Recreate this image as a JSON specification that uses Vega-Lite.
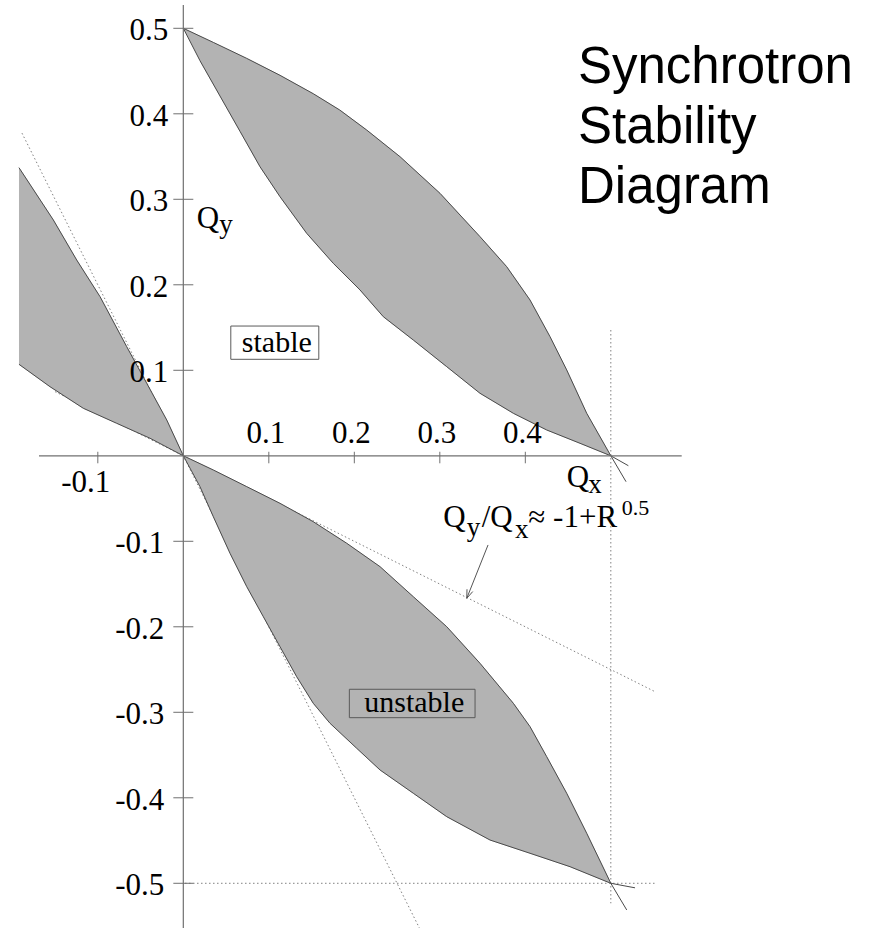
{
  "$schema": "https://vega.github.io/schema/vega-lite/v6.json",
  "width": 871,
  "height": 928,
  "padding": 0,
  "autosize": {"type": "none"},
  "background": "white",
  "config": {"view": {"stroke": null}},
  "datasets": {
    "regions": [
      {"region": "upper", "seq": 1, "x": 0, "y": 0.5},
      {"region": "upper", "seq": 2, "x": 0.0351, "y": 0.4835},
      {"region": "upper", "seq": 3, "x": 0.0742, "y": 0.4648},
      {"region": "upper", "seq": 4, "x": 0.1131, "y": 0.445},
      {"region": "upper", "seq": 5, "x": 0.152, "y": 0.4235},
      {"region": "upper", "seq": 6, "x": 0.183, "y": 0.4044},
      {"region": "upper", "seq": 7, "x": 0.2145, "y": 0.381},
      {"region": "upper", "seq": 8, "x": 0.2535, "y": 0.3498},
      {"region": "upper", "seq": 9, "x": 0.3002, "y": 0.307},
      {"region": "upper", "seq": 10, "x": 0.347, "y": 0.2563},
      {"region": "upper", "seq": 11, "x": 0.3782, "y": 0.2212},
      {"region": "upper", "seq": 12, "x": 0.4055, "y": 0.1822},
      {"region": "upper", "seq": 13, "x": 0.4289, "y": 0.1393},
      {"region": "upper", "seq": 14, "x": 0.4484, "y": 0.1004},
      {"region": "upper", "seq": 15, "x": 0.4718, "y": 0.0497},
      {"region": "upper", "seq": 16, "x": 0.5, "y": 0},
      {"region": "upper", "seq": 17, "x": 0.464, "y": 0.0146},
      {"region": "upper", "seq": 18, "x": 0.425, "y": 0.0302},
      {"region": "upper", "seq": 19, "x": 0.386, "y": 0.0497},
      {"region": "upper", "seq": 20, "x": 0.347, "y": 0.0731},
      {"region": "upper", "seq": 21, "x": 0.3081, "y": 0.1042},
      {"region": "upper", "seq": 22, "x": 0.269, "y": 0.1354},
      {"region": "upper", "seq": 23, "x": 0.2339, "y": 0.1627},
      {"region": "upper", "seq": 24, "x": 0.2067, "y": 0.1939},
      {"region": "upper", "seq": 25, "x": 0.1754, "y": 0.2251},
      {"region": "upper", "seq": 26, "x": 0.1443, "y": 0.2602},
      {"region": "upper", "seq": 27, "x": 0.1131, "y": 0.303},
      {"region": "upper", "seq": 28, "x": 0.0897, "y": 0.3381},
      {"region": "upper", "seq": 29, "x": 0.0663, "y": 0.3795},
      {"region": "upper", "seq": 30, "x": 0.0429, "y": 0.4208},
      {"region": "upper", "seq": 31, "x": 0.0195, "y": 0.4621},
      {"region": "left", "seq": 1, "x": -0.1922, "y": 0.337},
      {"region": "left", "seq": 2, "x": -0.152, "y": 0.2758},
      {"region": "left", "seq": 3, "x": -0.1247, "y": 0.229},
      {"region": "left", "seq": 4, "x": -0.0974, "y": 0.1861},
      {"region": "left", "seq": 5, "x": -0.0662, "y": 0.1276},
      {"region": "left", "seq": 6, "x": -0.0428, "y": 0.0848},
      {"region": "left", "seq": 7, "x": -0.0194, "y": 0.0419},
      {"region": "left", "seq": 8, "x": 0, "y": 0},
      {"region": "left", "seq": 9, "x": -0.0389, "y": 0.0205},
      {"region": "left", "seq": 10, "x": -0.0779, "y": 0.038},
      {"region": "left", "seq": 11, "x": -0.117, "y": 0.0556},
      {"region": "left", "seq": 12, "x": -0.1559, "y": 0.0808},
      {"region": "left", "seq": 13, "x": -0.1922, "y": 0.107},
      {"region": "lower", "seq": 1, "x": 0, "y": 0},
      {"region": "lower", "seq": 2, "x": 0.0351, "y": -0.0166},
      {"region": "lower", "seq": 3, "x": 0.0742, "y": -0.0361},
      {"region": "lower", "seq": 4, "x": 0.1131, "y": -0.0556},
      {"region": "lower", "seq": 5, "x": 0.152, "y": -0.0771},
      {"region": "lower", "seq": 6, "x": 0.1911, "y": -0.1023},
      {"region": "lower", "seq": 7, "x": 0.2301, "y": -0.1297},
      {"region": "lower", "seq": 8, "x": 0.269, "y": -0.1648},
      {"region": "lower", "seq": 9, "x": 0.3081, "y": -0.1999},
      {"region": "lower", "seq": 10, "x": 0.347, "y": -0.2427},
      {"region": "lower", "seq": 11, "x": 0.386, "y": -0.2895},
      {"region": "lower", "seq": 12, "x": 0.4055, "y": -0.3168},
      {"region": "lower", "seq": 13, "x": 0.425, "y": -0.3519},
      {"region": "lower", "seq": 14, "x": 0.4484, "y": -0.3947},
      {"region": "lower", "seq": 15, "x": 0.4718, "y": -0.4415},
      {"region": "lower", "seq": 16, "x": 0.5, "y": -0.5},
      {"region": "lower", "seq": 17, "x": 0.4523, "y": -0.4806},
      {"region": "lower", "seq": 18, "x": 0.4055, "y": -0.4649},
      {"region": "lower", "seq": 19, "x": 0.3587, "y": -0.4494},
      {"region": "lower", "seq": 20, "x": 0.3081, "y": -0.4221},
      {"region": "lower", "seq": 21, "x": 0.269, "y": -0.3947},
      {"region": "lower", "seq": 22, "x": 0.2301, "y": -0.3675},
      {"region": "lower", "seq": 23, "x": 0.2028, "y": -0.3421},
      {"region": "lower", "seq": 24, "x": 0.1716, "y": -0.3129},
      {"region": "lower", "seq": 25, "x": 0.152, "y": -0.2895},
      {"region": "lower", "seq": 26, "x": 0.1326, "y": -0.2584},
      {"region": "lower", "seq": 27, "x": 0.1131, "y": -0.2233},
      {"region": "lower", "seq": 28, "x": 0.0936, "y": -0.1882},
      {"region": "lower", "seq": 29, "x": 0.0742, "y": -0.1531},
      {"region": "lower", "seq": 30, "x": 0.0546, "y": -0.114},
      {"region": "lower", "seq": 31, "x": 0.0351, "y": -0.0712},
      {"region": "lower", "seq": 32, "x": 0.0195, "y": -0.0361}
    ],
    "curves": [
      {"curve": "c1", "x": 0, "y": 0.5},
      {"curve": "c1", "x": 0.0351, "y": 0.4835},
      {"curve": "c1", "x": 0.0742, "y": 0.4648},
      {"curve": "c1", "x": 0.1131, "y": 0.445},
      {"curve": "c1", "x": 0.152, "y": 0.4235},
      {"curve": "c1", "x": 0.183, "y": 0.4044},
      {"curve": "c1", "x": 0.2145, "y": 0.381},
      {"curve": "c1", "x": 0.2535, "y": 0.3498},
      {"curve": "c1", "x": 0.3002, "y": 0.307},
      {"curve": "c1", "x": 0.347, "y": 0.2563},
      {"curve": "c1", "x": 0.3782, "y": 0.2212},
      {"curve": "c1", "x": 0.4055, "y": 0.1822},
      {"curve": "c1", "x": 0.4289, "y": 0.1393},
      {"curve": "c1", "x": 0.4484, "y": 0.1004},
      {"curve": "c1", "x": 0.4718, "y": 0.0497},
      {"curve": "c1", "x": 0.5, "y": 0},
      {"curve": "c1", "x": 0.5178, "y": -0.0303},
      {"curve": "c2", "x": 0, "y": 0.5},
      {"curve": "c2", "x": 0.0195, "y": 0.4621},
      {"curve": "c2", "x": 0.0429, "y": 0.4208},
      {"curve": "c2", "x": 0.0663, "y": 0.3795},
      {"curve": "c2", "x": 0.0897, "y": 0.3381},
      {"curve": "c2", "x": 0.1131, "y": 0.303},
      {"curve": "c2", "x": 0.1443, "y": 0.2602},
      {"curve": "c2", "x": 0.1754, "y": 0.2251},
      {"curve": "c2", "x": 0.2067, "y": 0.1939},
      {"curve": "c2", "x": 0.2339, "y": 0.1627},
      {"curve": "c2", "x": 0.269, "y": 0.1354},
      {"curve": "c2", "x": 0.3081, "y": 0.1042},
      {"curve": "c2", "x": 0.347, "y": 0.0731},
      {"curve": "c2", "x": 0.386, "y": 0.0497},
      {"curve": "c2", "x": 0.425, "y": 0.0302},
      {"curve": "c2", "x": 0.464, "y": 0.0146},
      {"curve": "c2", "x": 0.5, "y": 0},
      {"curve": "c2", "x": 0.5205, "y": -0.0116},
      {"curve": "c3", "x": -0.1922, "y": 0.337},
      {"curve": "c3", "x": -0.152, "y": 0.2758},
      {"curve": "c3", "x": -0.1247, "y": 0.229},
      {"curve": "c3", "x": -0.0974, "y": 0.1861},
      {"curve": "c3", "x": -0.0662, "y": 0.1276},
      {"curve": "c3", "x": -0.0428, "y": 0.0848},
      {"curve": "c3", "x": -0.0194, "y": 0.0419},
      {"curve": "c3", "x": 0, "y": 0},
      {"curve": "c3", "x": 0.0195, "y": -0.0361},
      {"curve": "c3", "x": 0.0351, "y": -0.0712},
      {"curve": "c3", "x": 0.0546, "y": -0.114},
      {"curve": "c3", "x": 0.0742, "y": -0.1531},
      {"curve": "c3", "x": 0.0936, "y": -0.1882},
      {"curve": "c3", "x": 0.1131, "y": -0.2233},
      {"curve": "c3", "x": 0.1326, "y": -0.2584},
      {"curve": "c3", "x": 0.152, "y": -0.2895},
      {"curve": "c3", "x": 0.1716, "y": -0.3129},
      {"curve": "c3", "x": 0.2028, "y": -0.3421},
      {"curve": "c3", "x": 0.2301, "y": -0.3675},
      {"curve": "c3", "x": 0.269, "y": -0.3947},
      {"curve": "c3", "x": 0.3081, "y": -0.4221},
      {"curve": "c3", "x": 0.3587, "y": -0.4494},
      {"curve": "c3", "x": 0.4055, "y": -0.4649},
      {"curve": "c3", "x": 0.4523, "y": -0.4806},
      {"curve": "c3", "x": 0.5, "y": -0.5},
      {"curve": "c3", "x": 0.5283, "y": -0.5053},
      {"curve": "c4", "x": -0.1922, "y": 0.107},
      {"curve": "c4", "x": -0.1559, "y": 0.0808},
      {"curve": "c4", "x": -0.117, "y": 0.0556},
      {"curve": "c4", "x": -0.0779, "y": 0.038},
      {"curve": "c4", "x": -0.0389, "y": 0.0205},
      {"curve": "c4", "x": 0, "y": 0},
      {"curve": "c4", "x": 0.0351, "y": -0.0166},
      {"curve": "c4", "x": 0.0742, "y": -0.0361},
      {"curve": "c4", "x": 0.1131, "y": -0.0556},
      {"curve": "c4", "x": 0.152, "y": -0.0771},
      {"curve": "c4", "x": 0.1911, "y": -0.1023},
      {"curve": "c4", "x": 0.2301, "y": -0.1297},
      {"curve": "c4", "x": 0.269, "y": -0.1648},
      {"curve": "c4", "x": 0.3081, "y": -0.1999},
      {"curve": "c4", "x": 0.347, "y": -0.2427},
      {"curve": "c4", "x": 0.386, "y": -0.2895},
      {"curve": "c4", "x": 0.4055, "y": -0.3168},
      {"curve": "c4", "x": 0.425, "y": -0.3519},
      {"curve": "c4", "x": 0.4484, "y": -0.3947},
      {"curve": "c4", "x": 0.4718, "y": -0.4415},
      {"curve": "c4", "x": 0.5, "y": -0.5},
      {"curve": "c4", "x": 0.5186, "y": -0.5312}
    ],
    "guides": [
      {"x": -0.1887, "y": 0.3774, "x2": 0.2761, "y2": -0.5523},
      {"x": -0.15, "y": 0.075, "x2": 0.5517, "y2": -0.2759},
      {"x": 0.5, "y": 0.1471, "x2": 0.5, "y2": -0.5234},
      {"x": 0.002, "y": -0.5, "x2": 0.5517, "y2": -0.5}
    ],
    "axes": [
      {"x": -0.1688, "y": 0, "x2": 0.5829, "y2": 0},
      {"x": 0, "y": 0.5273, "x2": 0, "y2": -0.5523}
    ],
    "yticks": [
      {"x": 0, "y": 0.5, "label": "0.5"},
      {"x": 0, "y": 0.4, "label": "0.4"},
      {"x": 0, "y": 0.3, "label": "0.3"},
      {"x": 0, "y": 0.2, "label": "0.2"},
      {"x": 0, "y": 0.1, "label": "0.1"},
      {"x": 0, "y": -0.1, "label": "-0.1"},
      {"x": 0, "y": -0.2, "label": "-0.2"},
      {"x": 0, "y": -0.3, "label": "-0.3"},
      {"x": 0, "y": -0.4, "label": "-0.4"},
      {"x": 0, "y": -0.5, "label": "-0.5"}
    ],
    "xticks": [
      {"x": -0.1, "y": 0, "label": "-0.1"},
      {"x": 0.1, "y": 0, "label": "0.1"},
      {"x": 0.2, "y": 0, "label": "0.2"},
      {"x": 0.3, "y": 0, "label": "0.3"},
      {"x": 0.4, "y": 0, "label": "0.4"}
    ],
    "annotations": [
      {"role": "main", "x": 0.0157, "y": 0.2664, "text": "Q"},
      {"role": "sub", "x": 0.0421, "y": 0.2606, "text": "y"},
      {"role": "main", "x": 0.4484, "y": -0.036, "text": "Q"},
      {"role": "sub", "x": 0.4737, "y": -0.0439, "text": "x"},
      {"role": "main", "x": 0.3041, "y": -0.0833, "text": "Q"},
      {"role": "sub", "x": 0.3315, "y": -0.0938, "text": "y"},
      {"role": "main", "x": 0.349, "y": -0.0833, "text": "/Q"},
      {"role": "sub", "x": 0.388, "y": -0.0961, "text": "x"},
      {"role": "main", "x": 0.4035, "y": -0.0833, "text": "≈ -1+R"},
      {"role": "sup", "x": 0.5127, "y": -0.0692, "text": "0.5"},
      {"role": "title", "x": 0.4616, "y": 0.436, "text": "Synchrotron"},
      {"role": "title", "x": 0.4616, "y": 0.3661, "text": "Stability"},
      {"role": "title", "x": 0.4616, "y": 0.2959, "text": "Diagram"}
    ],
    "zones": [
      {"x": 0.107, "y": 0.1323, "text": "stable"},
      {"x": 0.2677, "y": -0.2897, "text": "unstable"}
    ],
    "arrow": [
      {"x": 0.3564, "y": -0.1043, "x2": 0.3315, "y2": -0.1667},
      {"x": 0.3315, "y": -0.1667, "x2": 0.3385, "y2": -0.1588},
      {"x": 0.3315, "y": -0.1667, "x2": 0.3318, "y2": -0.1561}
    ]
  },
  "encoding": {
    "x": {"field": "x", "type": "quantitative", "scale": {"domain": [-0.2144, 0.8043], "nice": false, "zero": false}, "axis": null},
    "y": {"field": "y", "type": "quantitative", "scale": {"domain": [-0.5523, 0.5331], "nice": false, "zero": false}, "axis": null}
  },
  "layer": [
    {
      "data": {"name": "guides"},
      "mark": {"type": "rule", "stroke": "#808080", "strokeWidth": 1, "strokeDash": [1.5, 2.5]},
      "encoding": {"x2": {"field": "x2"}, "y2": {"field": "y2"}}
    },
    {
      "data": {"name": "regions"},
      "mark": {"type": "line", "fill": "#b3b3b3", "stroke": "#b3b3b3", "strokeWidth": 0.5},
      "encoding": {
        "detail": {"field": "region"},
        "order": {"field": "seq", "type": "quantitative"}
      }
    },
    {
      "data": {"name": "curves"},
      "mark": {"type": "line", "stroke": "#4a4a4a", "strokeWidth": 1},
      "encoding": {"detail": {"field": "curve"}}
    },
    {
      "data": {"name": "axes"},
      "mark": {"type": "rule", "stroke": "#707070", "strokeWidth": 1.2},
      "encoding": {"x2": {"field": "x2"}, "y2": {"field": "y2"}}
    },
    {
      "data": {"name": "yticks"},
      "mark": {"type": "point", "shape": "stroke", "size": 400, "filled": false, "stroke": "#707070", "strokeWidth": 1, "opacity": 1}
    },
    {
      "data": {"name": "xticks"},
      "mark": {"type": "point", "shape": "M0,-0.67V1.25", "size": 144, "filled": false, "stroke": "#707070", "strokeWidth": 1, "opacity": 1}
    },
    {
      "data": {"name": "yticks"},
      "transform": [{"filter": "datum.y > 0"}],
      "mark": {"type": "text", "align": "right", "baseline": "alphabetic", "dx": -15, "dy": 12, "font": "Liberation Serif", "fontSize": 31, "color": "black"},
      "encoding": {"text": {"field": "label"}}
    },
    {
      "data": {"name": "yticks"},
      "transform": [{"filter": "datum.y < 0"}],
      "mark": {"type": "text", "align": "right", "baseline": "alphabetic", "dx": -19, "dy": 12, "font": "Liberation Serif", "fontSize": 31, "color": "black"},
      "encoding": {"text": {"field": "label"}}
    },
    {
      "data": {"name": "xticks"},
      "transform": [{"filter": "datum.x > 0"}],
      "mark": {"type": "text", "align": "center", "baseline": "alphabetic", "dx": -3, "dy": -13, "font": "Liberation Serif", "fontSize": 31, "color": "black"},
      "encoding": {"text": {"field": "label"}}
    },
    {
      "data": {"name": "xticks"},
      "transform": [{"filter": "datum.x < 0"}],
      "mark": {"type": "text", "align": "center", "baseline": "alphabetic", "dx": -12, "dy": 36, "font": "Liberation Serif", "fontSize": 31, "color": "black"},
      "encoding": {"text": {"field": "label"}}
    },
    {
      "data": {"name": "annotations"},
      "transform": [{"filter": "datum.role == 'main'"}],
      "mark": {"type": "text", "align": "left", "baseline": "alphabetic", "font": "Liberation Serif", "fontSize": 31, "color": "black"},
      "encoding": {"text": {"field": "text"}}
    },
    {
      "data": {"name": "annotations"},
      "transform": [{"filter": "datum.role == 'sub'"}],
      "mark": {"type": "text", "align": "left", "baseline": "alphabetic", "font": "Liberation Serif", "fontSize": 27, "color": "black"},
      "encoding": {"text": {"field": "text"}}
    },
    {
      "data": {"name": "annotations"},
      "transform": [{"filter": "datum.role == 'sup'"}],
      "mark": {"type": "text", "align": "left", "baseline": "alphabetic", "font": "Liberation Serif", "fontSize": 22, "color": "black"},
      "encoding": {"text": {"field": "text"}}
    },
    {
      "data": {"name": "annotations"},
      "transform": [{"filter": "datum.role == 'title'"}],
      "mark": {"type": "text", "align": "left", "baseline": "alphabetic", "font": "Liberation Sans", "fontSize": 51, "color": "black"},
      "encoding": {"text": {"field": "text"}}
    },
    {
      "data": {"name": "zones"},
      "transform": [{"filter": "datum.text == 'stable'"}],
      "mark": {"type": "point", "shape": "M-1,-0.378H1V0.378H-1Z", "size": 7744, "filled": false, "stroke": "#5a5a5a", "strokeWidth": 1, "opacity": 1}
    },
    {
      "data": {"name": "zones"},
      "transform": [{"filter": "datum.text == 'unstable'"}],
      "mark": {"type": "point", "shape": "M-1,-0.226H1V0.226H-1Z", "size": 15800, "filled": false, "stroke": "#5a5a5a", "strokeWidth": 1, "opacity": 1}
    },
    {
      "data": {"name": "zones"},
      "mark": {"type": "text", "align": "center", "baseline": "alphabetic", "dx": 2, "dy": 9, "font": "Liberation Serif", "fontSize": 30, "color": "black"},
      "encoding": {"text": {"field": "text"}}
    },
    {
      "data": {"name": "arrow"},
      "mark": {"type": "rule", "stroke": "#555555", "strokeWidth": 1},
      "encoding": {"x2": {"field": "x2"}, "y2": {"field": "y2"}}
    }
  ]
}
